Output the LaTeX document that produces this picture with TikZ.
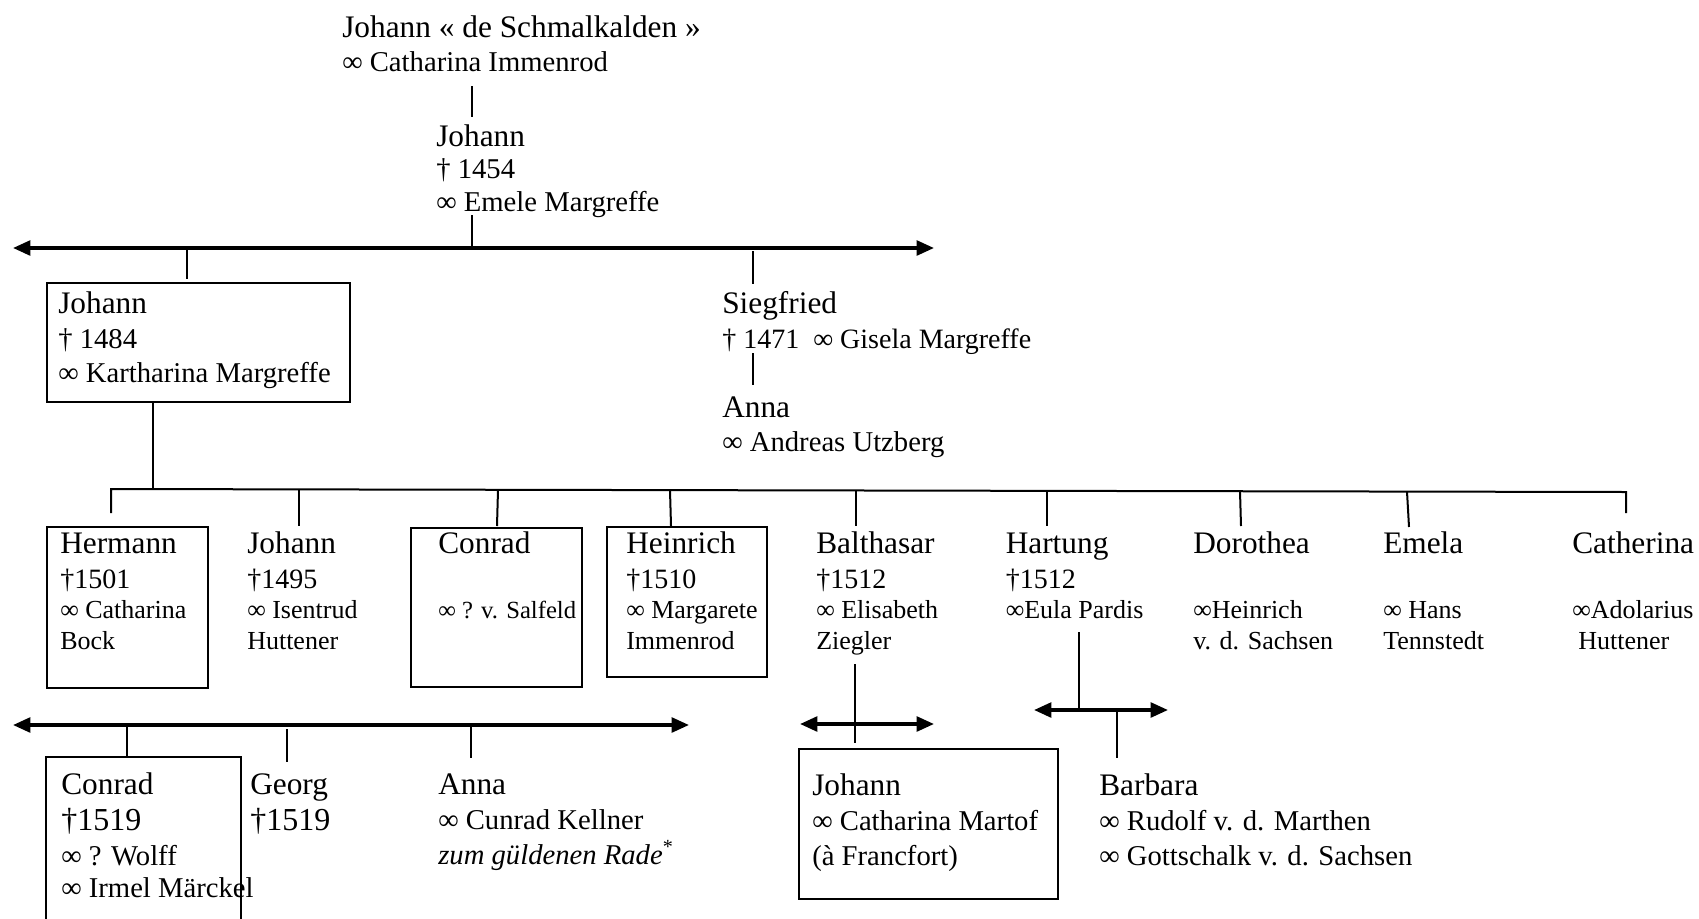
\documentclass[tikz,border=0pt]{standalone}
\usepackage{fontspec}
\setmainfont{Liberation Serif}
\usetikzlibrary{arrows.meta}
\newcommand\nm{\fontsize{23.5pt}{26pt}\selectfont}
\newcommand\nmb{\fontsize{24pt}{26pt}\selectfont}
\newcommand\sm{\fontsize{21.5pt}{24pt}\selectfont}
\newcommand\md{\fontsize{21pt}{24pt}\selectfont}
\newcommand\xs{\fontsize{19.5pt}{22pt}\selectfont}
\newcommand\xxs{\fontsize{18.5pt}{22pt}\selectfont}
\newcommand\Ln[2]{\baselineskip=#1\relax\hbox{#2}}
\newcommand\Blk[1]{\vtop{\lineskiplimit=-\maxdimen\lineskip=0pt #1}}
\tikzset{
  ln/.style={line width=1.5pt},
  arr/.style={line width=2.6pt,{Triangle[length=13pt,width=11pt]}-{Triangle[length=13pt,width=11pt]}},
  famtext/.style={anchor=base west,inner sep=0pt},
  famrect/.style={draw,line width=1.5pt,anchor=north west,inner sep=0pt},
}
\begin{document}
\begin{tikzpicture}[x=0.75pt,y=-0.75pt]
\useasboundingbox (0,0) rectangle (1699,918);

% ---------- generation 1 ----------
\node[famtext] (t0) at (342,37) {\Blk{\Ln{0pt}{\nm Johann « de Schmalkalden »}\Ln{25.5pt}{\sm ∞ Catharina Immenrod}}};
\node[famtext] (t1) at (436,146) {\Blk{\Ln{0pt}{\nm Johann}\Ln{24pt}{\sm † 1454}\Ln{24.75pt}{\sm ∞ Emele Margreffe}}};
\coordinate (t0b) at (472,86);
\coordinate (t1t) at (472,117);
\draw[ln] (t0b) -- (t1t);
\coordinate (t1b) at (472,215);
\coordinate (a1m) at (472,248);
\coordinate (a1l) at (13,248);
\coordinate (a1r) at (934,248);
\draw[arr] (a1l) -- (a1r);
\draw[ln] (t1b) -- (a1m);

% ---------- generation 2 ----------
\node[famrect,minimum width=303.3*0.75pt,minimum height=119*0.75pt] (bJ) at (45.7,282) {};
\node[famtext] (j2) at (58,313) {\Blk{\Ln{0pt}{\nm Johann}\Ln{26.25pt}{\sm † 1484}\Ln{25.5pt}{\sm ∞ Kartharina Margreffe}}};
\coordinate (a1j) at (187,248);
\coordinate (bJt) at (187,279);
\draw[ln] (a1j) -- (bJt);

\node[famtext] (sg) at (722,313) {\Blk{\Ln{0pt}{\nm Siegfried}\Ln{26.25pt}{\md † 1471 \ ∞ Gisela Margreffe}}};
\coordinate (a1s) at (753,251);
\coordinate (sgt) at (753,284);
\draw[ln] (a1s) -- (sgt);
\coordinate (sgb) at (753,353);
\coordinate (ant) at (753,385);
\draw[ln] (sgb) -- (ant);
\node[famtext] (an) at (722,417) {\Blk{\Ln{0pt}{\nm Anna}\Ln{25.5pt}{\sm ∞ Andreas Utzberg}}};

% ---------- generation 3 ----------
\coordinate (bJb) at (153,401);
\coordinate (m0) at (153,489.4);
\draw[ln] (bJb) -- (m0);
\coordinate (mL) at (111,489);
\coordinate (mR) at (1626,492);
\coordinate (heT) at (111,513);
\coordinate (caT) at (1626,513);
\draw[ln] (heT) -- (mL) -- (mR) -- (caT);
\draw[ln] (299,489.4) coordinate (d2) -- (299,526) coordinate (joT);
\draw[ln] (498,489.8) coordinate (d3) -- (497,526) coordinate (coT);
\draw[ln] (670,490.1) coordinate (d4) -- (671,526) coordinate (hnT);
\draw[ln] (856,490.5) coordinate (d5) -- (856,526) coordinate (baT);
\draw[ln] (1047,490.9) coordinate (d6) -- (1047,526) coordinate (haT);
\draw[ln] (1240,491.2) coordinate (d7) -- (1241,526) coordinate (doT);
\draw[ln] (1407,491.6) coordinate (d8) -- (1409,527) coordinate (emT);

\node[famrect,minimum width=161*0.75pt,minimum height=161*0.75pt] (bHe) at (45.7,526) {};
\node[famtext] (he) at (60,553) {\Blk{\Ln{0pt}{\nm Hermann}\Ln{26.25pt}{\md †1501}\Ln{22.5pt}{\xs ∞ Catharina}\Ln{23.25pt}{\xs Bock}}};
\node[famtext] (jo) at (247,553) {\Blk{\Ln{0pt}{\nm Johann}\Ln{26.25pt}{\md †1495}\Ln{22.5pt}{\xs ∞ Isentrud}\Ln{23.25pt}{\xs Huttener}}};
\node[famrect,minimum width=171.2*0.75pt,minimum height=159.4*0.75pt] (bCo) at (409.6,526.6) {};
\node[famtext] (co) at (438,553) {\Blk{\Ln{0pt}{\nm Conrad}\Ln{48.75pt}{\xxs ∞ ? v. Salfeld}}};
\node[famrect,minimum width=160.3*0.75pt,minimum height=150*0.75pt] (bHn) at (605.7,526) {};
\node[famtext] (hn) at (626,553) {\Blk{\Ln{0pt}{\nm Heinrich}\Ln{26.25pt}{\md †1510}\Ln{22.5pt}{\xs ∞ Margarete}\Ln{23.25pt}{\xs Immenrod}}};
\node[famtext] (ba) at (816,553) {\Blk{\Ln{0pt}{\nm Balthasar}\Ln{26.25pt}{\md †1512}\Ln{22.5pt}{\xs ∞ Elisabeth}\Ln{23.25pt}{\xs Ziegler}}};
\node[famtext] (ha) at (1005.5,553) {\Blk{\Ln{0pt}{\nm Hartung}\Ln{26.25pt}{\md †1512}\Ln{22.5pt}{\xs ∞Eula Pardis}}};
\node[famtext] (do) at (1193,553) {\Blk{\Ln{0pt}{\nm Dorothea}\Ln{48.75pt}{\xs ∞Heinrich}\Ln{23.25pt}{\xs v. d. Sachsen}}};
\node[famtext] (em) at (1383,553) {\Blk{\Ln{0pt}{\nm Emela}\Ln{48.75pt}{\xs ∞ Hans}\Ln{23.25pt}{\xs Tennstedt}}};
\node[famtext] (ca) at (1572,553) {\Blk{\Ln{0pt}{\nm Catherina}\Ln{48.75pt}{\xs ∞Adolarius}\Ln{23.25pt}{\xs \hspace{4.5pt}Huttener}}};

% ---------- generation 4: children of Hermann ----------
\coordinate (a2l) at (13,725);
\coordinate (a2r) at (689,725);
\draw[arr] (a2l) -- (a2r);
\draw[ln] (127,725) coordinate (e1) -- (127,757) coordinate (cbT);
\draw[ln] (287,729) coordinate (e2) -- (287,762) coordinate (geT);
\draw[ln] (471,725) coordinate (e3) -- (471,758) coordinate (a4T);
\coordinate (cbL) at (45.7,930);
\coordinate (cbR) at (240.7,930);
\draw[ln] (cbL) -- (45.7,757) -- (240.7,757) -- (cbR);
\node[famtext] (cb) at (61,794) {\Blk{\Ln{0pt}{\nm Conrad}\Ln{27pt}{\nmb †1519}\Ln{26.25pt}{\sm ∞ ? Wolff}\Ln{24pt}{\sm ∞ Irmel Märckel}}};
\node[famtext] (ge) at (250,794) {\Blk{\Ln{0pt}{\nm Georg}\Ln{27pt}{\nmb †1519}}};
\node[famtext] (a4) at (438,794) {\Blk{\Ln{0pt}{\nm Anna}\Ln{26.25pt}{\sm ∞ Cunrad Kellner}\Ln{26.25pt}{\sm \textit{zum güldenen Rade}\textsuperscript{*}}}};

% ---------- generation 4: child of Balthasar ----------
\coordinate (baB) at (855,664);
\coordinate (bj4T) at (855,743);
\draw[arr] (800,724) coordinate (a3l) -- (934,724) coordinate (a3r);
\draw[ln] (baB) -- (bj4T);
\node[famrect,minimum width=259*0.75pt,minimum height=150*0.75pt] (bJ4) at (798,748) {};
\node[famtext] (j4) at (812,795) {\Blk{\Ln{0pt}{\nm Johann}\Ln{26.25pt}{\sm ∞ Catharina Martof}\Ln{26.25pt}{\sm (à Francfort)}}};

% ---------- generation 4: child of Hartung ----------
\coordinate (haB) at (1079,632);
\coordinate (a4m) at (1079,710);
\draw[arr] (1034,710) coordinate (a4l) -- (1168,710) coordinate (a4r);
\draw[ln] (haB) -- (a4m);
\draw[ln] (1117,710) coordinate (a4c) -- (1117,758) coordinate (brT);
\node[famtext] (br) at (1099,795) {\Blk{\Ln{0pt}{\nm Barbara}\Ln{26.25pt}{\sm ∞ Rudolf v. d. Marthen}\Ln{26.25pt}{\sm ∞ Gottschalk v. d. Sachsen}}};
\end{tikzpicture}
\end{document}
